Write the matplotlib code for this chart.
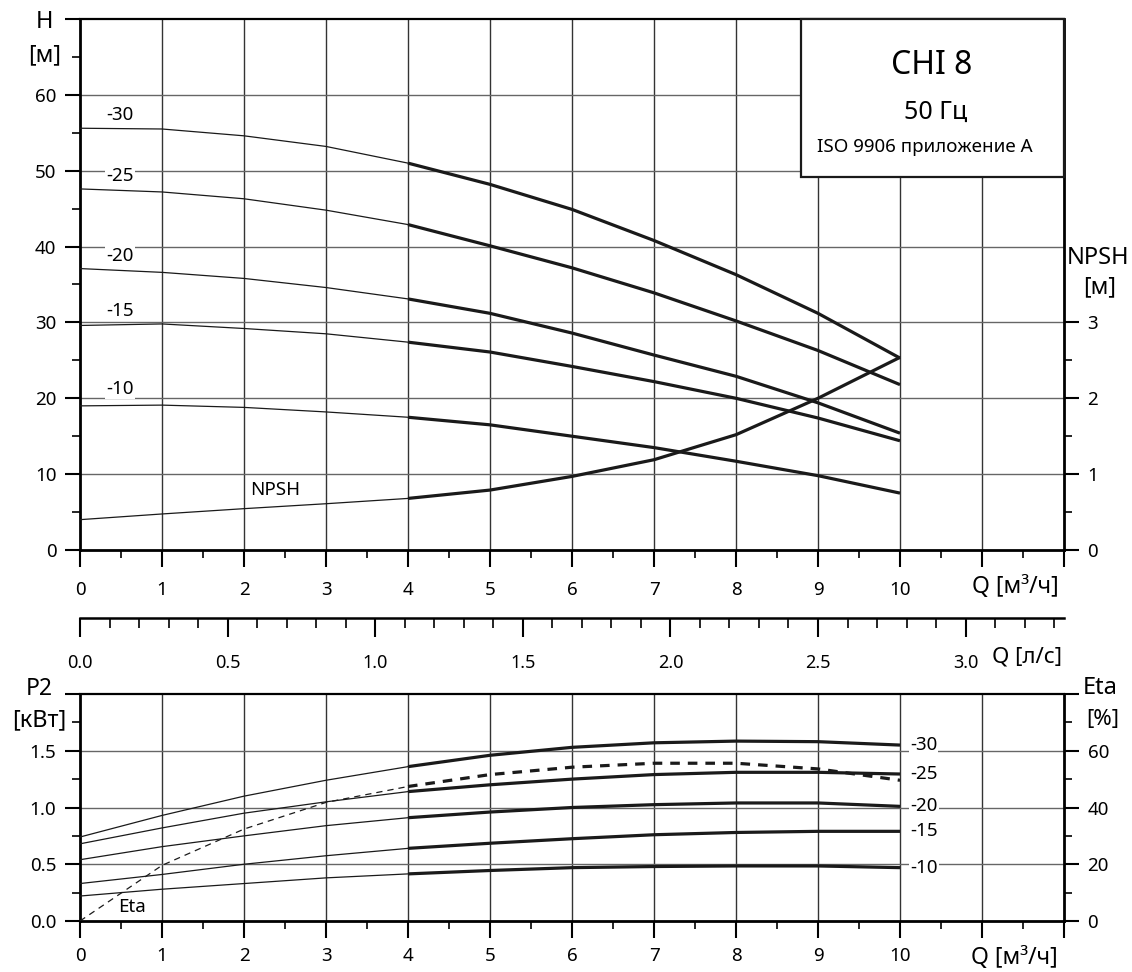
import matplotlib
matplotlib.use("Agg")
import matplotlib.pyplot as plt
from matplotlib.patches import Rectangle

plt.rcParams['font.family'] = ['Noto Sans', 'DejaVu Sans']

# data
q = [0, 1, 2, 3, 4, 5, 6, 7, 8, 9, 10]
h_curves = {
    '-30': [55.6, 55.5, 54.6, 53.2, 51.0, 48.2, 44.9, 40.8, 36.3, 31.2, 25.3],
    '-25': [47.6, 47.2, 46.3, 44.8, 42.9, 40.1, 37.2, 33.9, 30.2, 26.3, 21.8],
    '-20': [37.1, 36.6, 35.8, 34.6, 33.1, 31.2, 28.6, 25.7, 22.9, 19.4, 15.4],
    '-15': [29.6, 29.8, 29.2, 28.5, 27.4, 26.1, 24.2, 22.2, 20.0, 17.4, 14.4],
    '-10': [19.0, 19.1, 18.8, 18.2, 17.5, 16.5, 15.0, 13.5, 11.7, 9.8, 7.5],
}
h_label_y = {'-30': 57.4, '-25': 49.3, '-20': 38.8, '-15': 31.5, '-10': 21.2}
npsh = [0.40, 0.475, 0.545, 0.61, 0.68, 0.79, 0.97, 1.19, 1.52, 2.0, 2.54]

p2_curves = {
    '-30': [0.74, 0.93, 1.10, 1.24, 1.36, 1.46, 1.53, 1.57, 1.585, 1.58, 1.55],
    '-25': [0.68, 0.82, 0.95, 1.05, 1.14, 1.20, 1.25, 1.29, 1.31, 1.31, 1.295],
    '-20': [0.54, 0.655, 0.75, 0.84, 0.91, 0.96, 1.00, 1.025, 1.04, 1.04, 1.01],
    '-15': [0.33, 0.41, 0.50, 0.575, 0.64, 0.685, 0.725, 0.76, 0.78, 0.79, 0.79],
    '-10': [0.22, 0.28, 0.33, 0.38, 0.415, 0.445, 0.47, 0.48, 0.485, 0.485, 0.47],
}
eta = [0, 19.6, 32.4, 41.8, 47.4, 51.6, 54.2, 55.6, 55.6, 53.6, 49.6]

W, H = 1132, 972
fig = plt.figure(figsize=(W / 100, H / 100), dpi=100)


def fx(px):
    return px / W


def fy(py):
    return 1 - py / H


thin = 0.9
thick = 2.3
tsize = 13.5
lab = dict(fontsize=13.5, va='center', ha='left',
           bbox=dict(facecolor='white', edgecolor='none', pad=1.0), zorder=4)


def style(ax, xlen, ylen, pad_x):
    for s in ['left', 'right', 'bottom']:
        ax.spines[s].set_linewidth(2.0)
    ax.spines['top'].set_linewidth(1.6)
    ax.set_xlim(0, 12)
    ax.set_xticks(range(0, 13))
    ax.set_xticklabels([str(i) for i in range(0, 11)] + ['', ''])
    ax.set_xticks([i + 0.5 for i in range(12)], minor=True)
    ax.tick_params(axis='x', which='major', direction='out', length=xlen, width=1.5,
                   labelsize=tsize, pad=pad_x)
    ax.tick_params(axis='x', which='minor', direction='out', length=6, width=1.2)
    ax.tick_params(axis='y', which='major', direction='out', length=ylen, width=1.5,
                   labelsize=tsize, pad=6)
    ax.tick_params(axis='y', which='minor', direction='out', length=6, width=1.2)
    for x in range(1, 12):
        ax.axvline(x, color='#333333', lw=1.0, zorder=1)


# ---- top panel: H(Q) ----
ax1 = fig.add_axes([fx(80), fy(550), fx(1064) - fx(80), fy(19) - fy(550)])
style(ax1, 12, 11, 10)
ax1.set_ylim(0, 70)
ax1.set_yticks(range(0, 71, 10))
ax1.set_yticklabels([str(v) for v in range(0, 61, 10)] + [''])
ax1.set_yticks(range(5, 70, 10), minor=True)
for y in range(10, 70, 10):
    ax1.axhline(y, color='#666666', lw=1.0, zorder=1)

for name, vals in h_curves.items():
    ax1.plot(q[:5], vals[:5], color='#1a1a1a', lw=thin, zorder=3)
    ax1.plot(q[4:], vals[4:], color='#1a1a1a', lw=thick, zorder=3, solid_capstyle='butt')
    ax1.text(0.32, h_label_y[name], name, **lab)
npsh_h = [v * 10 for v in npsh]
ax1.plot(q[:5], npsh_h[:5], color='#1a1a1a', lw=thin, zorder=3)
ax1.plot(q[4:], npsh_h[4:], color='#1a1a1a', lw=thick, zorder=3, solid_capstyle='butt')
ax1.text(2.07, 7.9, 'NPSH', **lab)

ax1r = ax1.twinx()
ax1r.set_ylim(0, 7)
ax1r.set_yticks([0, 1, 2, 3])
ax1r.set_yticks([0.5, 1.5, 2.5], minor=True)
ax1r.tick_params(axis='y', which='major', direction='out', length=11, width=1.5,
                 labelsize=tsize, pad=6)
ax1r.tick_params(axis='y', which='minor', direction='out', length=6, width=1.2)
for s in ax1r.spines.values():
    s.set_visible(False)

# title box
box = Rectangle((fx(801), fy(177)), fx(1064) - fx(801), fy(19) - fy(177),
                transform=fig.transFigure, facecolor='white', edgecolor='#1a1a1a',
                lw=1.6, zorder=10)
fig.patches.append(box)
fig.text(fx(932), fy(65), 'CHI 8', fontsize=23, ha='center', va='center', zorder=11)
fig.text(fx(936), fy(112), '50 Гц', fontsize=18, ha='center', va='center', zorder=11)
fig.text(fx(925), fy(147), 'ISO 9906 приложение A', fontsize=13.5, ha='center',
         va='center', zorder=11)

fig.text(fx(45), fy(22), 'H', fontsize=17, ha='center', va='center')
fig.text(fx(45), fy(55), '[м]', fontsize=16.5, ha='center', va='center')
fig.text(fx(1098), fy(258), 'NPSH', fontsize=17, ha='center', va='center')
fig.text(fx(1100), fy(287), '[м]', fontsize=16.5, ha='center', va='center')
fig.text(fx(1059), fy(587), 'Q [м³/ч]', fontsize=16.5, ha='right', va='center')

# ---- Q in l/s scale ----
axl = fig.add_axes([fx(80), fy(618), fx(1064) - fx(80), 0.0001])
for s in ['left', 'right', 'top']:
    axl.spines[s].set_visible(False)
axl.spines['bottom'].set_linewidth(1.8)
axl.set_yticks([])
axl.set_xlim(0, 12 / 3.6)
ls_ticks = [0.0, 0.5, 1.0, 1.5, 2.0, 2.5, 3.0]
axl.set_xticks(ls_ticks)
axl.set_xticklabels(['%.1f' % v for v in ls_ticks])
axl.set_xticks([i / 10 for i in range(34) if i % 5], minor=True)
axl.tick_params(axis='x', which='major', direction='out', length=14, width=1.5,
                labelsize=13, pad=12)
axl.tick_params(axis='x', which='minor', direction='out', length=7, width=1.2)
fig.text(fx(1062), fy(657), 'Q [л/с]', fontsize=16, ha='right', va='center')

# ---- bottom panel: P2(Q), Eta ----
ax2 = fig.add_axes([fx(80), fy(921), fx(1064) - fx(80), fy(694) - fy(921)])
style(ax2, 12, 11, 7)
ax2.set_ylim(0, 2.0)
ax2.set_yticks([0, 0.5, 1.0, 1.5, 2.0])
ax2.set_yticklabels(['0.0', '0.5', '1.0', '1.5', ''])
ax2.set_yticks([0.25, 0.75, 1.25, 1.75], minor=True)
for y in [0.5, 1.0, 1.5]:
    ax2.axhline(y, color='#666666', lw=1.0, zorder=1)

for name, vals in p2_curves.items():
    ax2.plot(q[:5], vals[:5], color='#1a1a1a', lw=thin, zorder=3)
    ax2.plot(q[4:], vals[4:], color='#1a1a1a', lw=thick, zorder=3, solid_capstyle='butt')
    ax2.text(10.12, vals[-1], name, **lab)

eta_p = [v / 40 for v in eta]
ax2.plot(q[:5], eta_p[:5], color='#1a1a1a', lw=thin, ls=(0, (5, 4)), zorder=3)
ax2.plot(q[4:], eta_p[4:], color='#1a1a1a', lw=thick, ls=(0, (3, 2.5)), zorder=3)
ax2.text(0.46, 0.12, 'Eta', **lab)

ax2r = ax2.twinx()
ax2r.set_ylim(0, 80)
ax2r.set_yticks([0, 20, 40, 60, 80])
ax2r.set_yticklabels(['0', '20', '40', '60', ''])
ax2r.set_yticks([10, 30, 50, 70], minor=True)
ax2r.tick_params(axis='y', which='major', direction='out', length=11, width=1.5,
                 labelsize=tsize, pad=6)
ax2r.tick_params(axis='y', which='minor', direction='out', length=6, width=1.2)
for s in ax2r.spines.values():
    s.set_visible(False)

fig.text(fx(39), fy(689), 'P2', fontsize=16.5, ha='center', va='center')
fig.text(fx(39), fy(720), '[кВт]', fontsize=17, ha='center', va='center')
fig.text(fx(1100), fy(688), 'Eta', fontsize=17, ha='center', va='center')
fig.text(fx(1103), fy(719), '[%]', fontsize=16, ha='center', va='center')
fig.text(fx(1058), fy(958), 'Q [м³/ч]', fontsize=16.5, ha='right', va='center')

plt.savefig('out.png', dpi=100)
